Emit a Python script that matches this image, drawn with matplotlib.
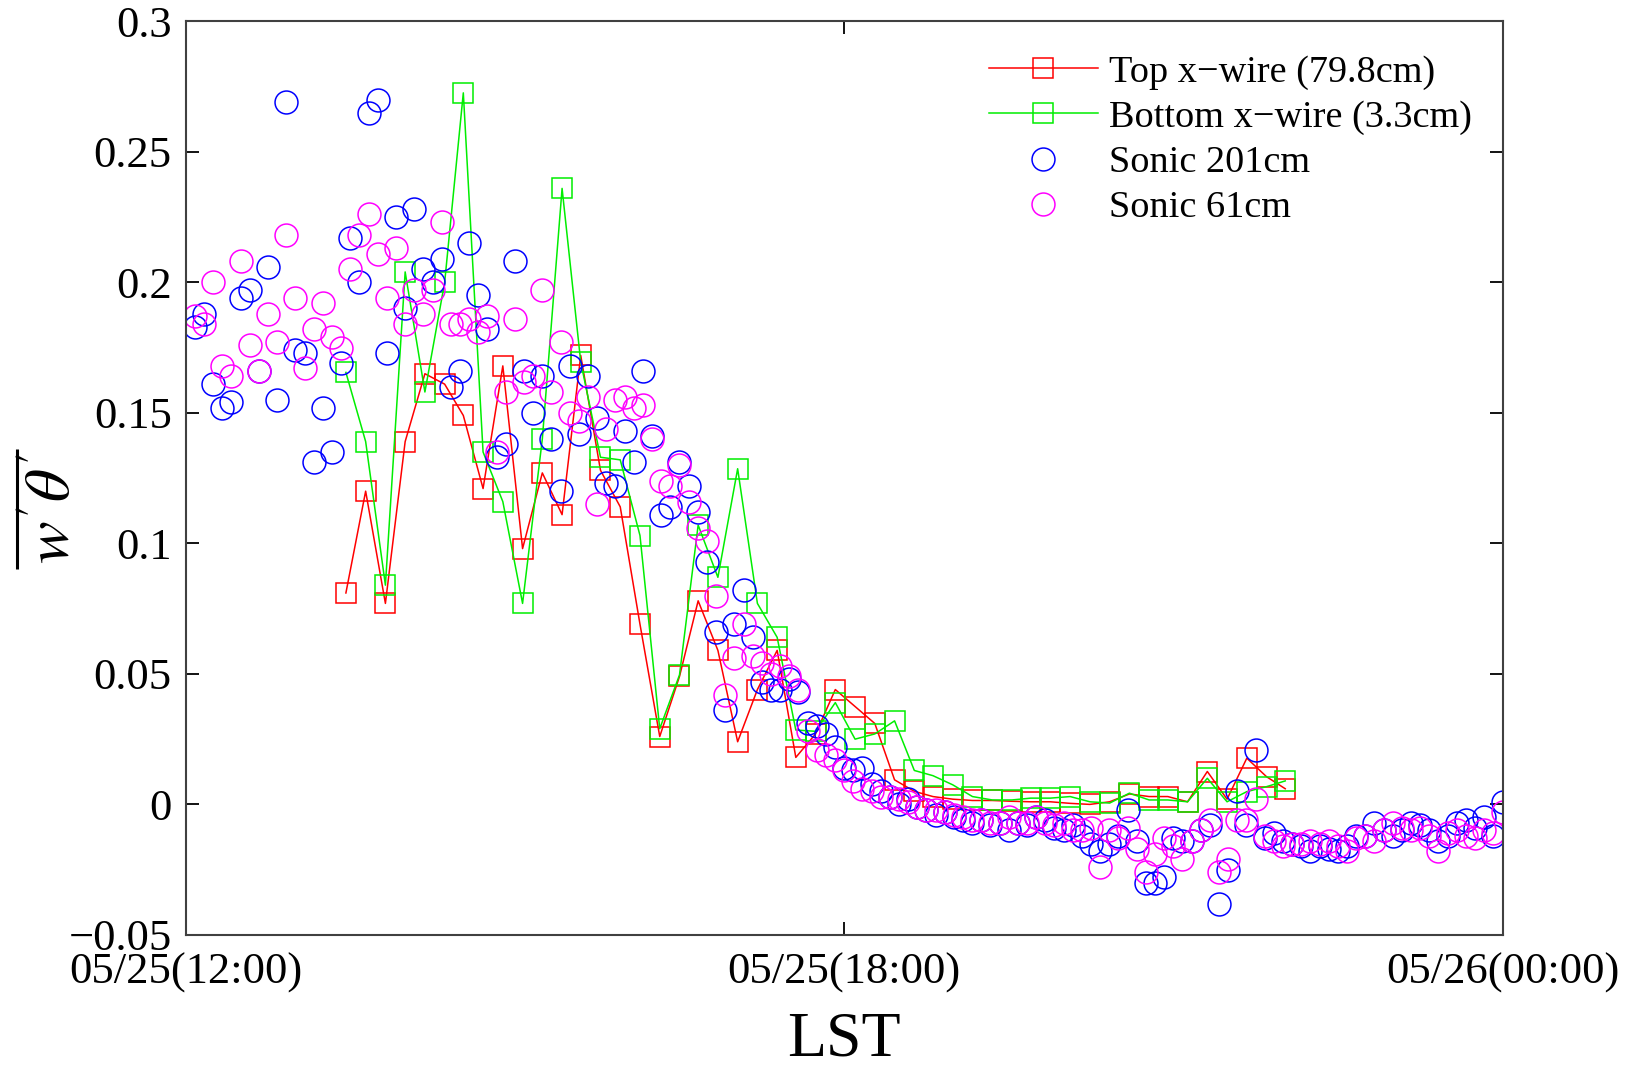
import matplotlib.pyplot as plt
import numpy as np

plt.rcParams["font.family"] = ["Liberation Serif", "DejaVu Serif"]
plt.rcParams["mathtext.fontset"] = "stix"

# x-wire block averages (640 s blocks), time in hours LST from 05/25 00:00
xwire_t = [
    13.46, 13.64, 13.82, 14.00, 14.18, 14.36, 14.53, 14.71, 14.89,
    15.07, 15.25, 15.43, 15.60, 15.78, 15.96, 16.14, 16.32, 16.50,
    16.67, 16.85, 17.03, 17.21, 17.39, 17.56, 17.74, 17.92, 18.10,
    18.28, 18.46, 18.64, 18.81, 18.99, 19.17, 19.35, 19.53, 19.70,
    19.88, 20.06, 20.24, 20.42, 20.60, 20.78, 20.95, 21.13, 21.31,
    21.49, 21.67, 21.85, 22.02,
]
top_xwire = [
    0.081, 0.120, 0.077, 0.139, 0.165, 0.161, 0.149, 0.121, 0.168, 0.098,
    0.127, 0.111, 0.172, 0.128, 0.114, 0.069, 0.026, 0.049, 0.078, 0.059,
    0.024, 0.044, 0.059, 0.018, 0.027, 0.044, 0.0375, 0.031, 0.0094, 0.005,
    0.003, 0.002, 0.0015, 0.0015, 0.0012, 0.001, 0.001, 0.0004, 0.000, 0.001,
    0.004, 0.003, 0.003, 0.001, 0.0126, 0.002, 0.0177, 0.0106, 0.006,
]
bottom_xwire = [
    0.1655, 0.139, 0.084, 0.204, 0.158, 0.200, 0.2726, 0.135, 0.116, 0.077,
    0.140, 0.236, 0.1695, 0.133, 0.132, 0.103, 0.029, 0.0496, 0.107, 0.087,
    0.1286, 0.077, 0.064, 0.0285, 0.028, 0.039, 0.025, 0.027, 0.032, 0.013,
    0.011, 0.0075, 0.003, 0.0017, 0.0017, 0.0024, 0.0024, 0.003, 0.001, 0.0005,
    0.0043, 0.0017, 0.0017, 0.001, 0.010, 0.001, 0.0049, 0.0068, 0.009,
]

# sonic 5-min averages, 12:05 .. 24:00 (one row per hour)
sonic_201 = [
    0.183, 0.188, 0.161, 0.152, 0.154, 0.194, 0.197, 0.166, 0.206, 0.155, 0.269, 0.174,
    0.173, 0.131, 0.152, 0.135, 0.169, 0.217, 0.200, 0.265, 0.270, 0.173, 0.225, 0.190,
    0.228, 0.205, 0.200, 0.209, 0.160, 0.166, 0.215, 0.195, 0.182, 0.133, 0.138, 0.208,
    0.166, 0.150, 0.164, 0.140, 0.120, 0.168, 0.142, 0.164, 0.148, 0.123, 0.122, 0.143,
    0.131, 0.166, 0.141, 0.111, 0.114, 0.131, 0.122, 0.112, 0.093, 0.066, 0.036, 0.069,
    0.082, 0.064, 0.047, 0.044, 0.044, 0.048, 0.043, 0.031, 0.030, 0.027, 0.022, 0.014,
    0.013, 0.014, 0.008, 0.005, 0.003, 0.000, 0.002, -0.001, -0.002, -0.004, -0.003, -0.005,
    -0.006, -0.007, -0.006, -0.008, -0.007, -0.010, -0.007, -0.008, -0.005, -0.006, -0.009, -0.010,
    -0.008, -0.012, -0.015, -0.018, -0.015, -0.012, -0.002, -0.014, -0.030, -0.030, -0.028, -0.013,
    -0.014, -0.014, -0.010, -0.008, -0.038, -0.025, 0.005, -0.008, 0.021, -0.013, -0.011, -0.014,
    -0.015, -0.016, -0.018, -0.016, -0.017, -0.018, -0.016, -0.012, -0.012, -0.007, -0.010, -0.012,
    -0.010, -0.007, -0.008, -0.010, -0.014, -0.012, -0.007, -0.006, -0.009, -0.005, -0.012, 0.001,
]
sonic_61 = [
    0.187, 0.184, 0.200, 0.168, 0.164, 0.208, 0.176, 0.166, 0.188, 0.177, 0.218, 0.194,
    0.167, 0.182, 0.192, 0.179, 0.175, 0.205, 0.218, 0.226, 0.211, 0.194, 0.213, 0.184,
    0.197, 0.188, 0.197, 0.223, 0.184, 0.184, 0.186, 0.181, 0.187, 0.135, 0.158, 0.186,
    0.162, 0.164, 0.197, 0.158, 0.177, 0.150, 0.147, 0.156, 0.115, 0.144, 0.155, 0.156,
    0.152, 0.153, 0.140, 0.124, 0.122, 0.130, 0.116, 0.106, 0.101, 0.080, 0.042, 0.056,
    0.069, 0.057, 0.054, 0.050, 0.053, 0.049, 0.044, 0.028, 0.021, 0.019, 0.017, 0.013,
    0.009, 0.006, 0.005, 0.003, 0.003, 0.002, 0.001, -0.001, -0.002, -0.002, -0.003, -0.004,
    -0.005, -0.006, -0.006, -0.007, -0.007, -0.005, -0.007, -0.007, -0.005, -0.007, -0.008, -0.007,
    -0.010, -0.010, -0.009, -0.024, -0.010, -0.013, -0.009, -0.017, -0.026, -0.019, -0.013, -0.016,
    -0.021, -0.014, -0.010, -0.006, -0.026, -0.021, -0.006, -0.006, 0.002, -0.012, -0.014, -0.016,
    -0.015, -0.015, -0.014, -0.015, -0.014, -0.016, -0.018, -0.013, -0.012, -0.014, -0.010, -0.007,
    -0.009, -0.010, -0.009, -0.012, -0.018, -0.011, -0.010, -0.012, -0.013, -0.010, -0.011, -0.003,
]
sonic_t = 12 + np.arange(1, len(sonic_201) + 1) * 5 / 60

x_ticks = [12, 18, 24]
x_tick_labels = ["05/25(12:00)", "05/25(18:00)", "05/26(00:00)"]
y_ticks = [-0.05, 0, 0.05, 0.1, 0.15, 0.2, 0.25, 0.3]
y_tick_labels = ["\u22120.05", "0", "0.05", "0.1", "0.15", "0.2", "0.25", "0.3"]

fig = plt.figure(figsize=(16.36, 10.67), dpi=100)
ax = fig.add_axes([0.1135, 0.1238, 0.8049, 0.8562])

square = dict(marker="s", markersize=14.5, markerfacecolor="none", markeredgewidth=1.1)
circle = dict(linestyle="none", marker="o", markersize=16.5, markerfacecolor="none",
              markeredgewidth=1.1)

ax.plot(xwire_t, top_xwire, color="#ff0000", linewidth=1.1, markeredgecolor="#ff0000",
        label="Top x\u2212wire (79.8cm)", **square)
ax.plot(xwire_t, bottom_xwire, color="#00ee00", linewidth=1.1, markeredgecolor="#00ee00",
        label="Bottom x\u2212wire (3.3cm)", **square)
ax.plot(sonic_t, sonic_201, markeredgecolor="#0000ff", label="Sonic 201cm", **circle)
ax.plot(sonic_t, sonic_61, markeredgecolor="#ff00ff", label="Sonic 61cm", **circle)

ax.set_xlim(12, 24)
ax.set_ylim(-0.05, 0.3)
ax.set_xticks(x_ticks)
ax.set_xticklabels(x_tick_labels)
ax.set_yticks(y_ticks)
ax.set_yticklabels(y_tick_labels)
ax.tick_params(direction="in", length=9.5, width=1.3, top=True, right=True,
               labelsize=32, colors="#000000")
ax.tick_params(axis="y", pad=10)
ax.tick_params(axis="x", pad=13)
for spine in ax.spines.values():
    spine.set_linewidth(1.5)
    spine.set_color("#404040")

ax.set_xlabel("LST", fontsize=46, labelpad=13)
ax.set_ylabel(r"$w^{\prime}\theta^{\prime}$", fontsize=46)
ax.yaxis.set_label_coords(-0.077, 0.467)
# averaging bar over the rotated label
ax.plot([-0.128, -0.128], [0.401, 0.532], transform=ax.transAxes, clip_on=False,
        color="black", linewidth=2.2, solid_capstyle="butt")

ax.legend(loc="upper left", bbox_to_anchor=(0.6045, 0.9485), bbox_transform=fig.transFigure,
          frameon=False, fontsize=27.5, handlelength=2.85, handletextpad=0.3,
          labelspacing=0.27, borderpad=0, borderaxespad=0)

fig.savefig("out.png", dpi=100)
